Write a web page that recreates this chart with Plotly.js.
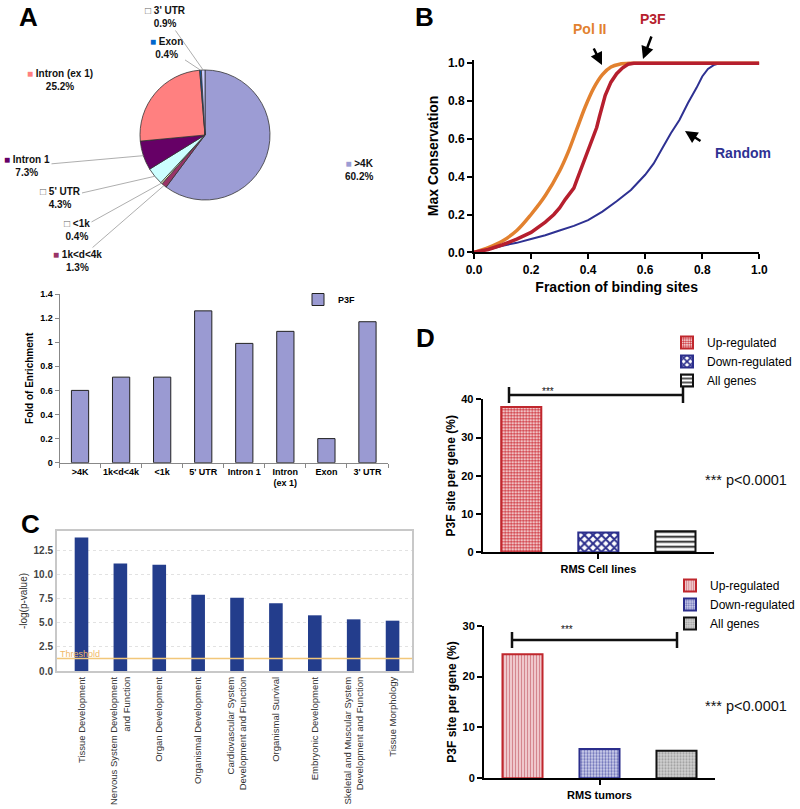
<!DOCTYPE html>
<html><head><meta charset="utf-8">
<script src="https://cdn.plot.ly/plotly-3.0.1.min.js"></script>
<style>body{margin:0;background:#fff}</style>
</head><body>
<div id="chart" style="width:800px;height:809px"></div>
<script>
// ---------- DATA ----------
// Panel A (pie): genomic distribution of P3F sites
const pieLabels = [">4K", "1k<d<4k", "<1k", "5' UTR", "Intron 1", "Intron (ex 1)", "Exon", "3' UTR"];
const pieValues = [60.2, 1.3, 0.4, 4.3, 7.3, 25.2, 0.4, 0.9];
const pieColors = ["#9c9cd4", "#993366", "#ffffcc", "#ccffff", "#660066", "#ff8080", "#0066cc", "#ccccff"];
// Panel A (bar): fold of enrichment
const enrichCats = [">4K", "1k<d<4k", "<1k", "5' UTR", "Intron 1", "Intron<br>(ex 1)", "Exon", "3' UTR"];
const enrichVals = [0.60, 0.71, 0.71, 1.26, 0.99, 1.09, 0.20, 1.17];
// Panel B: cumulative max conservation
const polX  = [0, 0.05, 0.1, 0.15, 0.2, 0.25, 0.3, 0.33, 0.36, 0.39, 0.42, 0.45, 0.48, 0.51, 0.55, 0.6, 1.0];
const polY  = [0, 0.025, 0.06, 0.115, 0.2, 0.3, 0.43, 0.53, 0.65, 0.77, 0.87, 0.94, 0.98, 0.995, 1.0, 1.0, 1.0];
const p3fX  = [0, 0.05, 0.1, 0.15, 0.2, 0.25, 0.28, 0.3, 0.32, 0.34, 0.35, 0.36, 0.37, 0.38, 0.39, 0.40, 0.41, 0.42, 0.43, 0.44, 0.45, 0.46, 0.48, 0.50, 0.52, 0.54, 0.56, 0.6, 1.0];
const p3fY  = [0, 0.015, 0.04, 0.07, 0.105, 0.16, 0.2, 0.235, 0.28, 0.32, 0.34, 0.38, 0.42, 0.47, 0.51, 0.55, 0.59, 0.63, 0.66, 0.72, 0.78, 0.83, 0.90, 0.945, 0.975, 0.995, 1.0, 1.0, 1.0];
const randX = [0, 0.05, 0.1, 0.15, 0.2, 0.25, 0.3, 0.35, 0.4, 0.45, 0.5, 0.55, 0.6, 0.63, 0.66, 0.69, 0.72, 0.75, 0.78, 0.8, 0.82, 0.84, 0.86, 0.9, 1.0];
const randY = [0, 0.015, 0.035, 0.05, 0.07, 0.09, 0.115, 0.14, 0.17, 0.215, 0.27, 0.33, 0.41, 0.47, 0.55, 0.63, 0.70, 0.79, 0.87, 0.93, 0.97, 0.99, 1.0, 1.0, 1.0];
// Panel C: functional categories
const goLabels = ["Tissue Development", "Nervous System Development<br>and Function", "Organ Development",
  "Organismal Development", "Cardiovascular System<br>Development and Function", "Organismal Survival",
  "Embryonic Development", "Skeletal and Muscular System<br>Development and Function", "Tissue Morphology"];
const goValues = [13.9, 11.2, 11.07, 7.95, 7.64, 7.05, 5.8, 5.38, 5.24];
const goThreshold = 1.3;
// Panel D
const groupNames = ["Up-regulated", "Down-regulated", "All genes"];
const cellLineCat = ["RMS Cell lines"];
const cellLineVals = [38.0, 5.2, 5.5];
const tumorCat = ["RMS tumors"];
const tumorVals = [24.4, 5.76, 5.43];
const pText = "*** p<0.0001";

// ---------- HELPERS ----------
const FF = "Liberation Sans, Arial, Helvetica, sans-serif";
const NARROW = "Liberation Sans Narrow, Arial Narrow, Liberation Sans, Arial, sans-serif";
const W = 800, H = 809;
const px = v => v / W;
const py = v => 1 - v / H;
const esc = s => s.replace(/</g, "&lt;").replace(/>/g, "&gt;").replace(/&lt;br&gt;/g, "<br>");

// ---------- TRACES ----------
const traces = [];

// pie
const pieCx = 205, pieCy = 135, pieR = 65;
traces.push({
  type: "pie", values: pieValues, labels: pieLabels.map(esc), sort: false, direction: "clockwise", rotation: 0,
  marker: {colors: pieColors, line: {color: "#333", width: 0.8}}, textinfo: "none", hoverinfo: "skip",
  showlegend: false,
  domain: {x: [px(pieCx - pieR), px(pieCx + pieR)], y: [py(pieCy + pieR), py(pieCy - pieR)]}
});

// enrichment bars
traces.push({
  type: "bar", x: enrichCats.map(esc), y: enrichVals, xaxis: "x", yaxis: "y", width: 0.42, name: "P3F",
  marker: {color: "#9a9ad2", line: {color: "#222", width: 1}}, legend: "legend", hoverinfo: "skip"
});

// conservation curves
traces.push({type: "scatter", mode: "lines", x: randX, y: randY, xaxis: "x2", yaxis: "y2",
  line: {color: "#2e3192", width: 2}, showlegend: false, hoverinfo: "skip"});
traces.push({type: "scatter", mode: "lines", x: polX, y: polY, xaxis: "x2", yaxis: "y2",
  line: {color: "#e2812f", width: 3.5, shape: "spline"}, showlegend: false, hoverinfo: "skip"});
traces.push({type: "scatter", mode: "lines", x: p3fX, y: p3fY, xaxis: "x2", yaxis: "y2",
  line: {color: "#b61f2e", width: 3.5}, showlegend: false, hoverinfo: "skip"});

// GO bars
traces.push({
  type: "bar", x: goLabels, y: goValues, xaxis: "x3", yaxis: "y3", width: 0.35,
  marker: {color: "#233d8c"}, showlegend: false, hoverinfo: "skip"
});

// Panel D top
const topStyles = [
  {color: "#f3c4c6", line: {color: "#c0272d", width: 2}, pattern: {shape: ".", fgcolor: "#cc2a33", bgcolor: "#ffffff", size: 3, solidity: 0.55}},
  {color: "#ffffff", line: {color: "#2b2e8c", width: 2}, pattern: {shape: "x", fgcolor: "#2b2e8c", bgcolor: "#ffffff", size: 6, solidity: 0.55}},
  {color: "#ffffff", line: {color: "#111111", width: 2}, pattern: {shape: "-", fgcolor: "#111111", bgcolor: "#ffffff", size: 5, solidity: 0.35}}
];
groupNames.forEach((g, i) => traces.push({
  type: "bar", x: cellLineCat, y: [cellLineVals[i]], name: g, xaxis: "x4", yaxis: "y4",
  marker: topStyles[i], legend: "legend2", hoverinfo: "skip"
}));
// Panel D bottom
const botStyles = [
  {color: "#eec7ca", line: {color: "#c0272d", width: 2}, pattern: {shape: "|", fgcolor: "#d4868e", bgcolor: "#f2d0d3", size: 3, solidity: 0.4}},
  {color: "#c9cbe8", line: {color: "#2b2e8c", width: 2}, pattern: {shape: ".", fgcolor: "#6d71b8", bgcolor: "#d3d5ee", size: 3, solidity: 0.45}},
  {color: "#c8c8c8", line: {color: "#111111", width: 2}, pattern: {shape: ".", fgcolor: "#9a9a9a", bgcolor: "#d2d2d2", size: 3, solidity: 0.4}}
];
groupNames.forEach((g, i) => traces.push({
  type: "bar", x: tumorCat, y: [tumorVals[i]], name: g, xaxis: "x5", yaxis: "y5",
  marker: botStyles[i], legend: "legend3", hoverinfo: "skip"
}));

// ---------- ANNOTATIONS ----------
const ann = [];
const txt = (text, x, y, font, extra) => Object.assign({text: text, xref: "paper", yref: "paper", x: px(x), y: py(y),
  xanchor: "center", yanchor: "middle", showarrow: false, font: Object.assign({family: FF}, font)}, extra || {});
// panel letters
[["A", 29, 17], ["B", 424, 17], ["C", 30, 524], ["D", 425, 338]].forEach(([t, x, y]) =>
  ann.push(txt(t, x, y, {size: 26, weight: "bold", color: "#000"})));

// pie labels (positions are layout; arrow tips derived from data)
const pieLabelPos = [[359, 170], [77, 261], [77, 230], [60, 198], [27, 166], [60, 80], [167, 48], [166, 17]];
const pieArrow = [false, true, true, true, true, false, true, true];
const lightColor = c => {
  const r = parseInt(c.slice(1, 3), 16), g = parseInt(c.slice(3, 5), 16), b = parseInt(c.slice(5, 7), 16);
  return (0.299 * r + 0.587 * g + 0.114 * b) > 200;
};
const pieTotal = pieValues.reduce((a, b) => a + b, 0);
let cum = 0;
pieValues.forEach((v, i) => {
  const mid = (cum + v / 2) / pieTotal * 2 * Math.PI;
  cum += v;
  const tx = pieCx + pieR * Math.sin(mid), ty = pieCy - pieR * Math.cos(mid);
  const sq = lightColor(pieColors[i]) ? `<span style="color:#666">□</span>` : `<span style="color:${pieColors[i]}">■</span>`;
  const t = `${sq} ${esc(pieLabels[i])}<br>${v.toFixed(1)}%`;
  const [lx, ly] = pieLabelPos[i];
  const a = txt(t, lx, ly, {size: 10, weight: "bold", color: "#111"}, {align: "center"});
  if (pieArrow[i]) {
    Object.assign(a, {x: px(tx), y: py(ty), ax: lx - tx, ay: ly - ty, showarrow: true, arrowhead: 0,
      arrowwidth: 0.8, arrowcolor: "#999"});
  }
  ann.push(a);
});

// panel B labels + arrows
ann.push(txt("Pol II", 589, 29, {size: 14, weight: "bold", color: "#e2812f"}));
ann.push(txt("P3F", 653, 19, {size: 14, weight: "bold", color: "#b61f2e"}));
ann.push(txt("Random", 743, 153, {size: 14, weight: "bold", color: "#2e3192"}));
[[602, 65, -9, -18], [643, 59, 9, -24], [685, 131, 17, 11]].forEach(([x, y, ax, ay]) => ann.push({
  text: "", xref: "paper", yref: "paper", x: px(x), y: py(y), ax: ax, ay: ay, showarrow: true,
  arrowhead: 2, arrowsize: 1, arrowwidth: 2.5, arrowcolor: "#000"
}));

// panel C threshold label
ann.push(txt("Threshold", 58, 654, {size: 9, color: "#f0b868"}, {xanchor: "left"}));

// panel D texts
ann.push(txt("***", 548, 392, {size: 10, color: "#111"}));
ann.push(txt("***", 567, 629, {size: 10, color: "#111"}));
ann.push(txt(esc(pText), 746, 480, {size: 14.5, color: "#111"}));
ann.push(txt(esc(pText), 746, 706, {size: 14.5, color: "#111"}));

// ---------- SHAPES ----------
const shapes = [];
shapes.push({type: "line", xref: "x3 domain", yref: "y3", x0: 0, x1: 1, y0: goThreshold, y1: goThreshold,
  line: {color: "#f2c77a", width: 1.5}});
function bracket(x0, x1, y, cap) {
  shapes.push({type: "line", xref: "paper", yref: "paper", x0: px(x0), x1: px(x1), y0: py(y), y1: py(y), line: {color: "#111", width: 2.5}});
  shapes.push({type: "line", xref: "paper", yref: "paper", x0: px(x0), x1: px(x0), y0: py(y - cap), y1: py(y + cap), line: {color: "#111", width: 2.5}});
  shapes.push({type: "line", xref: "paper", yref: "paper", x0: px(x1), x1: px(x1), y0: py(y - cap), y1: py(y + cap), line: {color: "#111", width: 2.5}});
}
bracket(509, 683, 395, 8);
bracket(512, 677, 640, 8);

// ---------- LAYOUT ----------
const blackAxis = {showline: true, linecolor: "#000", linewidth: 2, ticks: "outside", ticklen: 5, tickwidth: 2,
  tickcolor: "#000", showgrid: false, zeroline: false, fixedrange: true};

const layout = {
  width: W, height: H, margin: {l: 0, r: 0, t: 0, b: 0},
  paper_bgcolor: "#ffffff", plot_bgcolor: "rgba(0,0,0,0)",
  font: {family: FF, color: "#000"},
  barmode: "group", bargap: 0.0, bargroupgap: 0.48,
  showlegend: true,
  xaxis: {domain: [px(59.5), px(388)], anchor: "y", type: "category", range: [-0.5, 7.5],
    showline: true, linecolor: "#888", linewidth: 1, ticks: "outside", tickson: "boundaries", ticklen: 4,
    tickcolor: "#888", tickangle: 0, tickfont: {size: 9, weight: "bold"}, showgrid: false, zeroline: false},
  yaxis: {domain: [py(462.7), py(294)], anchor: "x", range: [0, 1.4], dtick: 0.2,
    showline: true, linecolor: "#888", linewidth: 1, ticks: "outside", ticklen: 4, tickcolor: "#888",
    tickfont: {size: 9, weight: "bold"}, showgrid: false, zeroline: false,
    title: {text: "Fold of Enrichment", font: {size: 10, weight: "bold"}, standoff: 4}},
  xaxis2: Object.assign({}, blackAxis, {domain: [px(474), px(759.3)], anchor: "y2", range: [0, 1], dtick: 0.2,
    tickformat: ".1f", tickfont: {size: 12, weight: "bold"},
    title: {text: "Fraction of binding sites", font: {size: 14, weight: "bold"}, standoff: 6}}),
  yaxis2: Object.assign({}, blackAxis, {domain: [py(252.3), py(59.5)], anchor: "x2", range: [0, 1.02],
    tickvals: [0, 0.2, 0.4, 0.6, 0.8, 1.0], tickformat: ".1f", tickfont: {size: 12, weight: "bold"},
    title: {text: "Max Conservation", font: {size: 14, weight: "bold"}, standoff: 6}}),
  xaxis3: {domain: [px(57), px(412)], anchor: "y3", type: "category", range: [-0.63, 8.5],
    showline: true, mirror: true, linecolor: "#c8c8c8", linewidth: 2, ticks: "", tickangle: -90,
    tickfont: {size: 9.5, family: NARROW, color: "#333"}, showgrid: false, zeroline: false},
  yaxis3: {domain: [py(671), py(531)], anchor: "x3", range: [0, 14.58], dtick: 2.5, tickformat: ".1f",
    showline: true, mirror: true, linecolor: "#c8c8c8", linewidth: 2, ticks: "",
    showgrid: true, gridcolor: "#e2e2e2", griddash: "dot", zeroline: false,
    tickfont: {size: 10, color: "#444", weight: "bold"},
    title: {text: "-log(p-value)", font: {size: 10, color: "#333"}, standoff: 4}},
  xaxis4: Object.assign({}, blackAxis, {domain: [px(482.7), px(714)], anchor: "y4", type: "category",
    range: [-0.5, 0.5], tickfont: {size: 11, weight: "bold"}}),
  yaxis4: Object.assign({}, blackAxis, {domain: [py(552.3), py(399.3)], anchor: "x4", range: [0, 40], dtick: 10,
    tickfont: {size: 11, weight: "bold"},
    title: {text: "P3F site per gene (%)", font: {size: 12, weight: "bold"}, standoff: 3}}),
  xaxis5: Object.assign({}, blackAxis, {domain: [px(484), px(715)], anchor: "y5", type: "category",
    range: [-0.5, 0.5], tickfont: {size: 11, weight: "bold"}}),
  yaxis5: Object.assign({}, blackAxis, {domain: [py(778.3), py(625.7)], anchor: "x5", range: [0, 30], dtick: 10,
    tickfont: {size: 11, weight: "bold"},
    title: {text: "P3F site per gene (%)", font: {size: 12, weight: "bold"}, standoff: 3}}),
  legend: {x: px(298), y: py(285), xanchor: "left", yanchor: "top", bgcolor: "rgba(0,0,0,0)",
    font: {size: 9, weight: "bold"}},
  legend2: {x: px(667), y: py(328), xanchor: "left", yanchor: "top", bgcolor: "rgba(0,0,0,0)",
    font: {size: 12}, tracegroupgap: 0},
  legend3: {x: px(670), y: py(571), xanchor: "left", yanchor: "top", bgcolor: "rgba(0,0,0,0)",
    font: {size: 12}, tracegroupgap: 0},
  annotations: ann,
  shapes: shapes
};

Plotly.newPlot("chart", traces, layout, {staticPlot: true, displayModeBar: false});
</script>
</body></html>
